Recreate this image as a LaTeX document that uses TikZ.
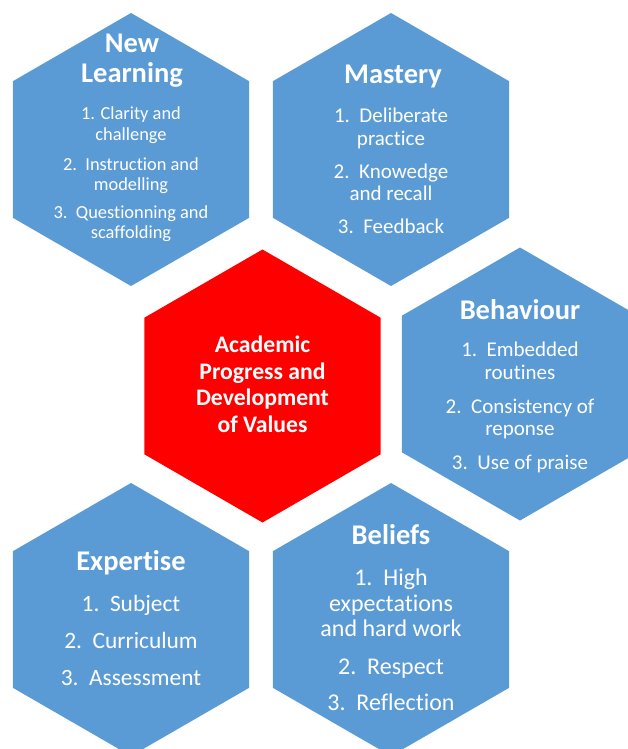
\documentclass[tikz,border=0pt]{standalone}
\usepackage{fontspec}
\setmainfont[RawFeature={-liga;-clig;-calt;-dlig;-rlig}]{Carlito}
\usetikzlibrary{shapes.geometric}
\definecolor{hexblue}{HTML}{5B9BD5}
\definecolor{hexred}{HTML}{FF0000}
\tikzset{
  hexa/.style={regular polygon, regular polygon sides=6, shape border rotate=30,
    minimum size=273pt, inner sep=0pt, outer sep=0pt, draw=none},
  bluehex/.style={hexa, fill=hexblue},
  redhex/.style={hexa, fill=hexred},
  ttl/.style={anchor=base, text=white, inner sep=0pt, font=\bfseries\fontsize{28.5}{30}\selectfont},
  ctr/.style={anchor=base, text=white, inner sep=0pt, font=\bfseries\fontsize{23.7}{26}\selectfont},
  bodyl/.style={anchor=base, text=white, inner sep=0pt, font=\fontsize{#1}{#1}\selectfont}
}
\begin{document}
\begin{tikzpicture}[x=1pt,y=-1pt]
\useasboundingbox (0,0) rectangle (628,749);
\clip (0,0) rectangle (628,749);
% hexagons
\node[bluehex] (hnl) at (131,149.5) {};
\node[bluehex] (hma) at (391,149.5) {};
\node[redhex]  (hce) at (262.5,386) {};
\node[bluehex] (hbe) at (520,384) {};
\node[bluehex] (hex) at (131,619.5) {};
\node[bluehex] (hbl) at (391,619.5) {};
% New Learning
\node[ttl] (nl0) at (132,53) {New};
\node[ttl] (nl1) at (132,83) {Learning};
\node[bodyl=18.4] (nl2) at (131,120) {1. Clarity and};
\node[bodyl=18.4] (nl3) at (131,140) {challenge};
\node[bodyl=18.4] (nl4) at (131,170) {2.\ \ Instruction and};
\node[bodyl=18.4] (nl5) at (131,190) {modelling};
\node[bodyl=18.4] (nl6) at (131,218) {3.\ \ Questionning and};
\node[bodyl=18.4] (nl7) at (131,238) {scaffolding};
% Mastery
\node[ttl] (ma0) at (393,84) {Mastery};
\node[bodyl=21] (ma1) at (391,122) {1.\ \ Deliberate};
\node[bodyl=21] (ma2) at (391,145) {practice};
\node[bodyl=21] (ma3) at (391,178) {2.\ \ Knowedge};
\node[bodyl=21] (ma4) at (391,200) {and recall};
\node[bodyl=21] (ma5) at (391,233) {3.\ \ Feedback};
% Centre
\node[ctr] (ce0) at (262.5,352.7) {Academic};
\node[ctr] (ce1) at (262.5,379.3) {Progress and};
\node[ctr] (ce2) at (262.5,405.7) {Development};
\node[ctr] (ce3) at (262.5,432.3) {of Values};
% Behaviour
\node[ttl] (be0) at (520,319) {Behaviour};
\node[bodyl=21] (be1) at (520,356.7) {1.\ \ Embedded};
\node[bodyl=21] (be2) at (520,379) {routines};
\node[bodyl=21] (be3) at (520,413.3) {2.\ \ Consistency of};
\node[bodyl=21] (be4) at (520,435) {reponse};
\node[bodyl=21] (be5) at (520,469.3) {3.\ \ Use of praise};
% Expertise
\node[ttl] (ex0) at (131,570) {Expertise};
\node[bodyl=23.4] (ex1) at (131,611.7) {1.\ \ Subject};
\node[bodyl=23.4] (ex2) at (131,648.3) {2.\ \ Curriculum};
\node[bodyl=23.4] (ex3) at (131,685) {3.\ \ Assessment};
% Beliefs
\node[ttl] (bl0) at (391,544) {Beliefs};
\node[bodyl=24] (bl1) at (391,585) {1.\ \ High};
\node[bodyl=24] (bl2) at (391,611.7) {expectations};
\node[bodyl=24] (bl3) at (391,636.7) {and hard work};
\node[bodyl=24] (bl4) at (391,674) {2.\ \ Respect};
\node[bodyl=24] (bl5) at (391,710) {3.\ \ Reflection};
\end{tikzpicture}
\end{document}
